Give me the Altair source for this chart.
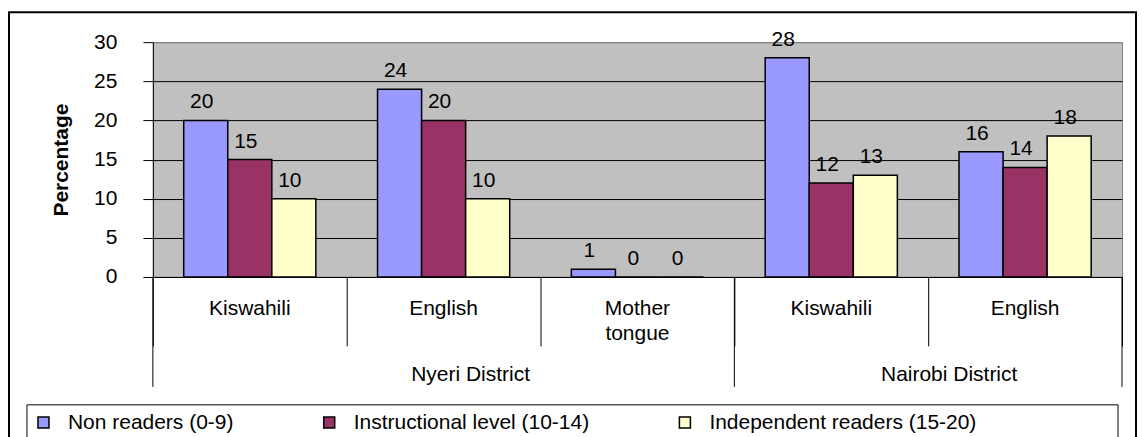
import altair as alt
import pandas as pd

categories = ["Nyeri Kiswahili", "Nyeri English", "Nyeri Mother tongue",
              "Nairobi Kiswahili", "Nairobi English"]
languages = ["Kiswahili", "English", "Mother\ntongue", "Kiswahili", "English"]
districts = ["Nyeri District", "Nairobi District"]
series = ["Non readers (0-9)", "Instructional level (10-14)", "Independent readers (15-20)"]
non_readers = [20, 24, 1, 28, 16]
instructional = [15, 20, 0, 12, 14]
independent = [10, 10, 0, 13, 18]
colors = ["#9999FF", "#993366", "#FFFFCC"]
y_ticks = [0, 5, 10, 15, 20, 25, 30]

rows = []
for vals, s in zip([non_readers, instructional, independent], series):
    for c, v in zip(categories, vals):
        rows.append({"cat": c, "series": s, "value": v})
df = pd.DataFrame(rows)
df_cat = pd.DataFrame({"cat": categories, "lang": languages})
df_d1 = pd.DataFrame({"cat": [categories[1]], "district": [districts[0]]})
df_d2 = pd.DataFrame({"cat": [categories[4]], "district": [districts[1]]})
df_r0 = pd.DataFrame({"cat": [categories[0], categories[3]]})
df_r1 = pd.DataFrame({"cat": [categories[4]]})
one = pd.DataFrame({"k": [0]})

FS = 21
x_scale = alt.Scale(domain=categories, paddingInner=0, paddingOuter=0)
x_axis = alt.Axis(title=None, labels=False, grid=False, domainColor="black",
                  domainWidth=1, tickBand="extent", tickSize=69,
                  tickColor="black", tickWidth=1)
X = alt.X("cat:N", scale=x_scale, axis=x_axis)
X0 = alt.X("cat:N", scale=x_scale, axis=x_axis, bandPosition=0)
X1 = alt.X("cat:N", scale=x_scale, axis=x_axis, bandPosition=1)
XO = alt.XOffset("series:N", scale=alt.Scale(domain=series, paddingInner=0, paddingOuter=0.7))

y_axis = alt.Axis(title="Percentage", values=y_ticks, domainColor="black",
                  tickColor="black", tickSize=10, labelPadding=26,
                  labelFontSize=FS, labelColor="black", titleFontSize=FS,
                  titleFontWeight="bold", titleColor="black", titlePadding=22,
                  grid=True, gridWidth=1,
                  gridColor=alt.condition("datum.value === 30", alt.value("#808080"), alt.value("black")))
Y = alt.Y("value:Q", scale=alt.Scale(domain=[0, 30], nice=False), axis=y_axis)

legend = alt.Legend(orient="none", legendX=-120, legendY=370, direction="horizontal",
                    columns=3, title=None, symbolType="square", symbolSize=121,
                    symbolStrokeColor="black", symbolStrokeWidth=1.5,
                    labelFontSize=FS, labelColor="black", columnPadding=85,
                    labelOffset=14, labelLimit=500)

frame = alt.Chart(one).mark_rect(fill="white", fillOpacity=0, stroke="black", strokeWidth=2).encode(
    x=alt.value(-144), x2=alt.value(984), y=alt.value(-30), y2=alt.value(420))
legbox = alt.Chart(one).mark_rect(fill="white", fillOpacity=0, stroke="black", strokeWidth=1).encode(
    x=alt.value(-126), x2=alt.value(966), y=alt.value(363), y2=alt.value(420))

bars = alt.Chart(df).mark_bar(stroke="black", strokeWidth=1.5).encode(
    x=X, xOffset=XO, y=Y,
    color=alt.Color("series:N", scale=alt.Scale(domain=series, range=colors), legend=legend))

vlabels = alt.Chart(df).mark_text(baseline="bottom", dy=-8, dx=-4, fontSize=FS, color="black").encode(
    x=X, xOffset=XO, y=Y, text=alt.Text("value:Q"))

catlabels = alt.Chart(df_cat).mark_text(lineBreak="\n", baseline="top", fontSize=FS,
                                        lineHeight=25, align="center", color="black").encode(
    x=X, y=alt.value(256), text="lang:N")

d1 = alt.Chart(df_d1).mark_text(baseline="middle", fontSize=FS, dx=27, color="black").encode(
    x=X, y=alt.value(333), text="district:N")
d2 = alt.Chart(df_d2).mark_text(baseline="middle", fontSize=FS, dx=21, color="black").encode(
    x=X0, y=alt.value(333), text="district:N")

r0 = alt.Chart(df_r0).mark_rule(color="black", strokeWidth=1).encode(
    x=X0, y=alt.value(235), y2=alt.value(345))
r1 = alt.Chart(df_r1).mark_rule(color="black", strokeWidth=1).encode(
    x=X1, y=alt.value(235), y2=alt.value(345))

chart = alt.layer(frame, legbox, bars, vlabels, catlabels, d1, d2, r0, r1).properties(
    width=970, height=235,
    padding={"left": 0, "top": 3, "right": 0, "bottom": 0}
).configure(font="Liberation Sans").configure_view(
    fill="#C0C0C0", stroke="#808080", strokeWidth=1)

chart.save("out.html", embed_options={"renderer": "svg", "actions": False})
